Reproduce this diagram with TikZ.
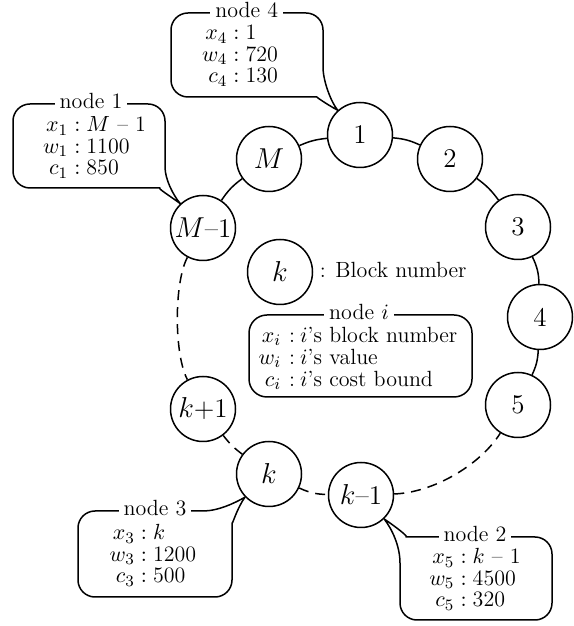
\documentclass[tikz,border=0pt]{standalone}
\begin{document}
\begin{tikzpicture}[x=0.5pt,y=0.5pt,line width=0.75pt,
  every node/.style={font=\fontsize{11}{10.75}\selectfont},
  blk/.style={circle,draw,minimum size=32.5pt,inner sep=0pt,font=\fontsize{13.5}{15}\selectfont},
  gap/.style={dash pattern=on 5pt off 3.5pt},
  callout/.style={line join=round},
  title/.style={fill=white,inner xsep=2.5pt,inner ysep=1pt,anchor=base},
  info/.style={inner sep=0pt}
]
\useasboundingbox (0,0) rectangle (573,626);

% blocks on the ring
\node[blk] (c1)  at (360,491) {1};
\node[blk] (c2)  at (450,467) {2};
\node[blk] (c3)  at (518,399) {3};
\node[blk] (c4)  at (540,309) {4};
\node[blk] (c5)  at (518,221) {5};
\node[blk] (ckm) at (361,131) {$k$--1};
\node[blk] (ck)  at (269,152) {$k$};
\node[blk] (ckp) at (203,217) {$k$+1};
\node[blk] (cMm) at (203,398) {$M$--1};
\node[blk] (cM)  at (269,467) {$M$};

% ring links
\draw (cMm) to[bend left=10] (cM);
\draw (cM)  to[bend left=9]  (c1);
\draw (c1)  to[bend left=10] (c2);
\draw (c2)  to[bend left=9]  (c3);
\draw (c3)  to[bend left=12] (c4);
\draw (c4)  to[bend left=11] (c5);
\draw[gap] (ckm) to[bend right=28,looseness=0.8] (c5);
\draw[gap] (ck)  to[bend right=12] (ckm);
\draw[gap] (ckp) to[bend right=8]  (ck);
\draw[gap] (cMm) to[bend right=28,looseness=0.6] (ckp);

% key
\node[blk] (key) at (280,354) {$k$};
\node[anchor=base west,inner sep=0pt] (keytext) at (319,348.7) {: Block number};
\draw[rounded corners=9pt] (249,229) rectangle (472,311);
\node[title] (legtitle) at (359,306) {node $i$};
\node[info] (leginfo) at (358,266) {\begin{tabular}{@{}r@{\hspace{4pt}:\hspace{2.5pt}}l@{}}
$x_i$ & $i$'s block number\\
$w_i$ & $i$'s value\\
$c_i$ & $i$'s cost bound
\end{tabular}};

% callout: node 4
\draw[callout] (171,570) [rounded corners=8.5pt] -- (171,529) -- (300,529) [sharp corners]
  .. controls (316,529) and (328,521) .. (c1.132)
  .. controls (331,524) and (323,545) .. (323,559) [rounded corners=8.5pt]
  -- (323,613) -- (171,613) -- cycle;
\node[title] (t4) at (246.7,608) {node 4};
\node[info] (i4) at (240,569) {\begin{tabular}{@{}r@{${}:{}$}l@{}}
$x_4$ & 1\\ $w_4$ & 720\\ $c_4$ & 130
\end{tabular}};

% callout: node 1
\draw[callout] (13,480) [rounded corners=8.5pt] -- (13,438) -- (143,438) [sharp corners]
  .. controls (157,438) and (170,430) .. (cMm.133)
  .. controls (173,431) and (165,447) .. (165,459) [rounded corners=8.5pt]
  -- (165,522) -- (13,522) -- cycle;
\node[title] (t1) at (91,517) {node 1};
\node[info] (i1) at (94.5,477) {\begin{tabular}{@{}r@{${}:{}$}l@{}}
$x_1$ & $M$ -- 1\\ $w_1$ & 1100\\ $c_1$ & 850
\end{tabular}};

% callout: node 3
\draw[callout] (78,72) [rounded corners=8.5pt] -- (78,29) -- (232,29) -- (232,86) [sharp corners]
  .. controls (232,100) and (237,118) .. (ck.224)
  .. controls (235,123) and (218,115) .. (203,115) [rounded corners=8.5pt]
  -- (78,115) -- cycle;
\node[title] (t3) at (155,110) {node 3};
\node[info] (i3) at (153,69) {\begin{tabular}{@{}r@{${}:{}$}l@{}}
$x_3$ & $k$\\ $w_3$ & 1200\\ $c_3$ & 500
\end{tabular}};

% callout: node 2
\draw[callout] (552,48) [rounded corners=8.5pt] -- (552,89) -- (423,89) [sharp corners]
  .. controls (409,89) and (396,99) .. (ckm.314)
  .. controls (392,97) and (400,80) .. (400,63) [rounded corners=8.5pt]
  -- (400,6) -- (552,6) -- cycle;
\node[title] (t2) at (475,84) {node 2};
\node[info] (i2) at (475,45) {\begin{tabular}{@{}r@{${}:{}$}l@{}}
$x_5$ & $k$ -- 1\\ $w_5$ & 4500\\ $c_5$ & 320
\end{tabular}};
\end{tikzpicture}
\end{document}
